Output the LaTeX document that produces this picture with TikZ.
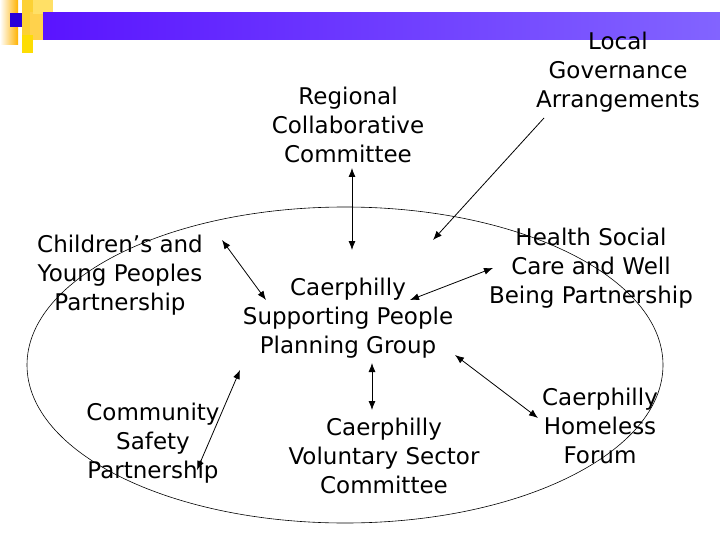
\documentclass[tikz,border=0pt]{standalone}
\usepackage{fontspec}
\setmainfont{DejaVu Sans}
\usetikzlibrary{arrows.meta}
\begin{document}
\begin{tikzpicture}[x=1pt,y=-1pt,
 lbl/.style={align=center,font=\fontsize{23}{29}\selectfont,inner sep=0pt},
 arr/.style={-{Latex[length=9pt,width=7pt]},line width=0.8pt},
 barr/.style={{Latex[length=9pt,width=7pt]}-{Latex[length=9pt,width=7pt]},line width=0.8pt}]
\useasboundingbox (0,0) rectangle (720,540);
% decoration
\shade[left color=white,right color=orange!60!yellow] (0,0) rectangle (18,45);
\fill[yellow!60!orange!80] (22,0) rectangle (43,35);
\fill[orange!50!yellow!70] (30,12) rectangle (53,40);
\fill[yellow!80!orange] (22,35) rectangle (33,53);
\fill[orange!40!yellow!60] (33,0) rectangle (53,14);
\fill[blue!70!violet] (10,13) rectangle (22,27);
\shade[left color={rgb,255:red,90;green,20;blue,255},right color={rgb,255:red,130;green,100;blue,255}] (43,13) rectangle (720,40);
% ellipse
\draw[line width=0.6pt] (345,365) ellipse [x radius=318, y radius=158];
% nodes
\node[lbl] (reg) at (348,125) {Regional\\Collaborative\\Committee};
\node[lbl] (loc) at (618,72) {Local\\Governance\\Arrangements};
\node[lbl] (cyp) at (120,275) {Children’s and\\Young Peoples\\Partnership};
\node[lbl] (csp) at (348,318) {Caerphilly\\Supporting People\\Planning Group};
\node[lbl] (hsc) at (591,268) {Health Social\\Care and Well\\Being Partnership};
\node[lbl] (com) at (153,443) {Community\\Safety\\Partnership};
\node[lbl] (vol) at (384,456) {Caerphilly\\Voluntary Sector\\Committee};
\node[lbl] (hom) at (600,426) {Caerphilly\\Homeless\\Forum};
\coordinate (a1) at (352,168); \coordinate (a2) at (352,250);
\coordinate (b1) at (544,118); \coordinate (b2) at (433,240);
\coordinate (c1) at (222,240); \coordinate (c2) at (266,300);
\coordinate (d1) at (197,470); \coordinate (d2) at (240,370);
\coordinate (e1) at (493,268); \coordinate (e2) at (410,300);
\coordinate (f1) at (372,363); \coordinate (f2) at (372,410);
\coordinate (g1) at (538,418); \coordinate (g2) at (455,355);
\draw[barr] (a1) -- (a2);
\draw[arr] (b1) -- (b2);
\draw[barr] (c1) -- (c2);
\draw[barr] (d1) -- (d2);
\draw[barr] (e1) -- (e2);
\draw[barr] (f1) -- (f2);
\draw[barr] (g1) -- (g2);
\end{tikzpicture}
\end{document}
